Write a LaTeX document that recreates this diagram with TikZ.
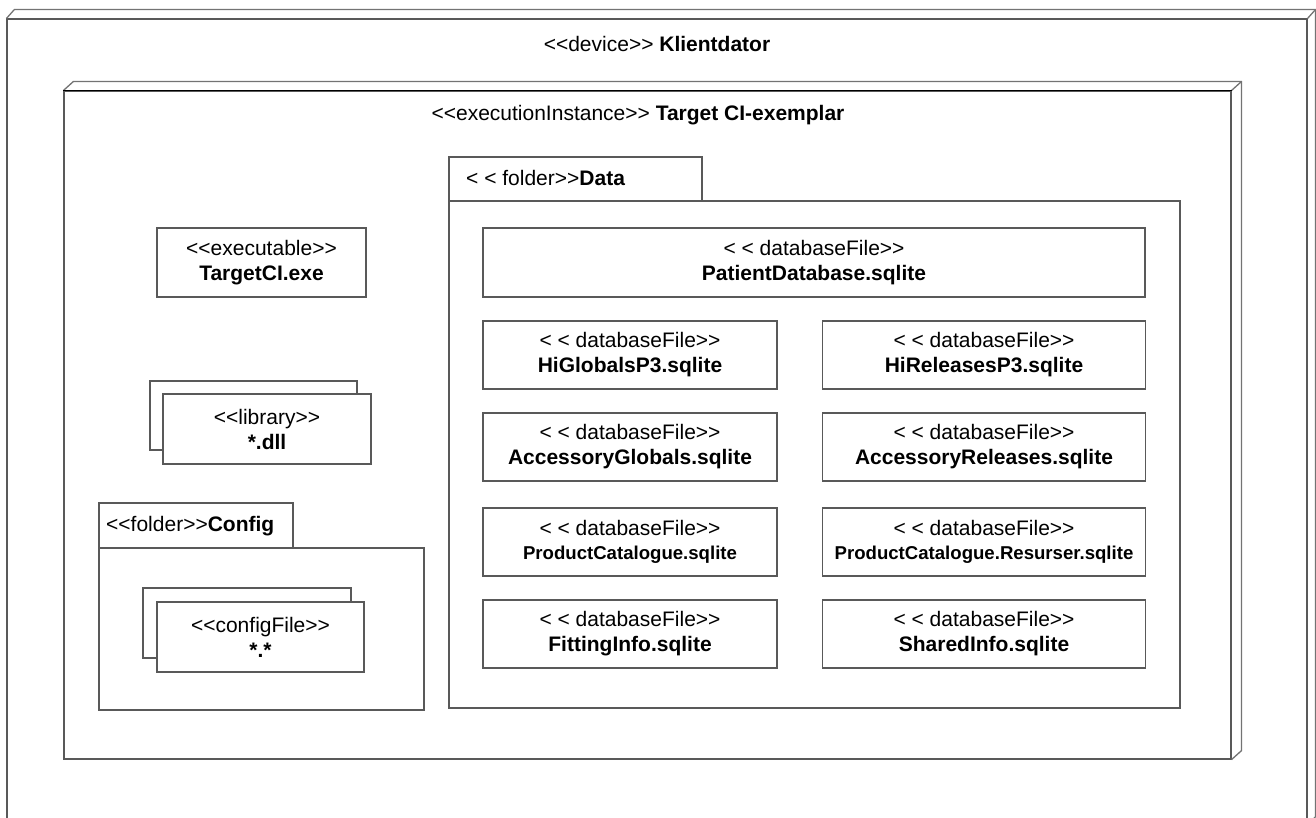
\documentclass[tikz,border=0pt]{standalone}
\usepackage{fontspec}
\newfontfamily\arialf{Liberation Sans}
\newcommand\fsz{\arialf\fontsize{21}{25}\selectfont}
\begin{document}
\begin{tikzpicture}[x=1pt,y=-1pt,
  frontbox/.style={draw=black!65, line width=1.1pt, fill=white, inner sep=0pt},
  depthline/.style={draw=black!55, line width=1.3pt, line join=round},
  art/.style={frontbox, align=center, font=\fsz},
  lbl/.style={inner sep=0pt, font=\fsz}]
\useasboundingbox (0,0) rectangle (1316,817);

% ---------- device ----------
\node[frontbox, minimum width=1300pt, minimum height=806pt] (dev) at (657,422) {};
\draw[depthline] (dev.north west) -- ([shift={(8,-9)}]dev.north west) -- ([shift={(8,-9)}]dev.north east)
  -- ([shift={(8,-9)}]dev.south east) -- (dev.south east);
\draw[depthline] (dev.north east) -- ([shift={(8,-9)}]dev.north east);
\node[lbl] (devlbl) at (657,44) {<<device>> \textbf{Klientdator}};

% ---------- execution instance ----------
\node[frontbox, minimum width=1167pt, minimum height=668pt] (exec) at (647.5,425) {};
\draw[depthline] (exec.north west) -- ([shift={(10,-9)}]exec.north west) -- ([shift={(10,-9)}]exec.north east)
  -- ([shift={(10,-9)}]exec.south east) -- (exec.south east);
\draw[depthline] (exec.north east) -- ([shift={(10,-9)}]exec.north east);
\draw[line width=1.6pt, black] (exec.north west) -- (exec.north east);
\node[lbl] (execlbl) at (638,115) {<<executionInstance>> \textbf{Target CI-exemplar}};

% ---------- executable ----------
\node[art, minimum width=209pt, minimum height=69pt] (exe) at (261.5,262.5)
  {<<executable>>\\\textbf{TargetCI.exe}};

% ---------- library ----------
\node[frontbox, minimum width=207pt, minimum height=69pt] (libback) at (253.5,415.5) {};
\node[art, minimum width=208pt, minimum height=70pt] (lib) at (267,429)
  {<<library>>\\\textbf{*.dll}};

% ---------- config folder ----------
\node[frontbox, minimum width=325pt, minimum height=162pt] (cfgbody) at (261.5,629) {};
\node[frontbox, minimum width=194pt, minimum height=45pt] (cfgtab) at (196,525.5) {};
\node[lbl, anchor=west] (cfglbl) at (106,526) {<<folder>>\textbf{Config}};
\node[frontbox, minimum width=208pt, minimum height=70pt] (cfgback) at (247,623) {};
\node[art, minimum width=207pt, minimum height=70pt] (cfgfile) at (260.5,637)
  {<<configFile>>\\\textbf{*.*}};

% ---------- data folder ----------
\node[frontbox, minimum width=731pt, minimum height=507pt] (databody) at (814.5,454.5) {};
\node[frontbox, minimum width=253pt, minimum height=44pt] (datatab) at (575.5,179) {};
\node[lbl, anchor=west] (datalbl) at (466,178) {< < folder>>\textbf{Data}};

\node[art, minimum width=662pt, minimum height=69pt] (patient) at (814,262.5)
  {< < databaseFile>>\\\textbf{PatientDatabase.sqlite}};

\node[art, minimum width=294pt, minimum height=68pt] (higlob) at (630,355)
  {< < databaseFile>>\\\textbf{HiGlobalsP3.sqlite}};
\node[art, minimum width=323pt, minimum height=68pt] (hirel) at (984,355)
  {< < databaseFile>>\\\textbf{HiReleasesP3.sqlite}};

\node[art, minimum width=294pt, minimum height=68pt] (accglob) at (630,447)
  {< < databaseFile>>\\\textbf{AccessoryGlobals.sqlite}};
\node[art, minimum width=323pt, minimum height=68pt] (accrel) at (984,447)
  {< < databaseFile>>\\\textbf{AccessoryReleases.sqlite}};

\node[art, minimum width=294pt, minimum height=68pt] (prodcat) at (630,542)
  {< < databaseFile>>\\[-1pt]{\fontsize{18.6}{22}\selectfont\textbf{ProductCatalogue.sqlite}}};
\node[art, minimum width=323pt, minimum height=68pt] (prodres) at (984,542)
  {< < databaseFile>>\\[-1pt]{\fontsize{18.6}{22}\selectfont\textbf{ProductCatalogue.Resurser.sqlite}}};

\node[art, minimum width=294pt, minimum height=68pt] (fitting) at (630,634)
  {< < databaseFile>>\\\textbf{FittingInfo.sqlite}};
\node[art, minimum width=323pt, minimum height=68pt] (shared) at (984,634)
  {< < databaseFile>>\\\textbf{SharedInfo.sqlite}};
\end{tikzpicture}
\end{document}
